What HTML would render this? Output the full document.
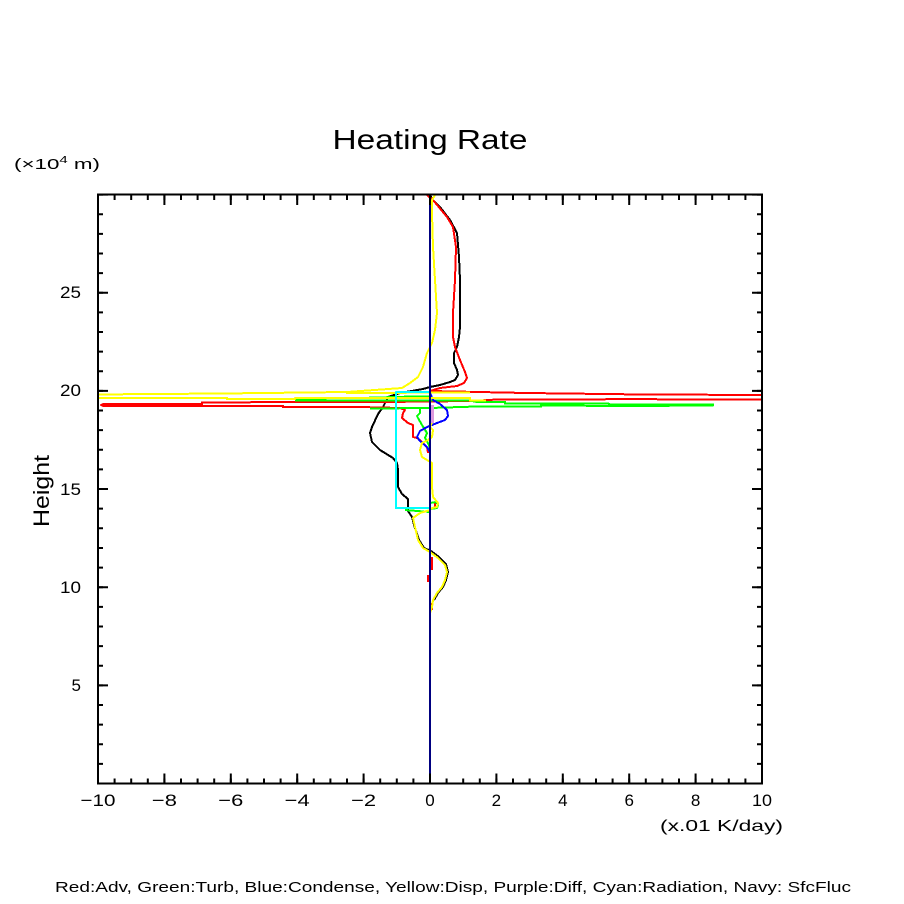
<!DOCTYPE html>
<html>
<head>
<meta charset="utf-8">
<style>
html,body{margin:0;padding:0;background:#fff;}
svg{display:block;}
text{font-family:"Liberation Sans",sans-serif;fill:#000;}
</style>
</head>
<body>
<svg width="904" height="904" viewBox="0 0 904 904" xmlns="http://www.w3.org/2000/svg">
<rect x="0" y="0" width="904" height="904" fill="#fff"/>

<!-- Title -->
<text x="430" y="149" font-size="28" text-anchor="middle" textLength="195" lengthAdjust="spacingAndGlyphs">Heating Rate</text>

<!-- y unit -->
<text x="14" y="169" font-size="15" textLength="86" lengthAdjust="spacingAndGlyphs">(×10<tspan font-size="10" dy="-6">4</tspan><tspan dy="6"> m)</tspan></text>

<defs>
<clipPath id="plot"><rect x="98" y="194" width="664" height="590"/></clipPath>
</defs>

<g clip-path="url(#plot)" fill="none" stroke-width="2" stroke-linejoin="round" shape-rendering="crispEdges">
<!-- black -->
<polyline stroke="#000" points="430,195 433,200 440,207 450,220 457,233 459,257 460,280 460,327 459,337 457,347 454,353 454,363 457,370 458,375 455,380 450,382 440,385 430,387 423,389 400,393 388,397 383,407 378,414 372,427 370,433 372,442 380,450 393,458 397,463 398,470 398,487 402,494 408,499 408,511 412,517 414,525 419,540 424,548 431,551 439,557 446,564 448,572 446,580 443,587 438,593 434,600"/>
<!-- red -->
<polyline stroke="#f00" points="427,195 433,200 447,217 453,227 456,247 455,280 453,313 453,337 455,347 460,360 465,372 467,378 464,383 457,386 440,388 430,391 526,393 643,394.5 770,395"/>
<polyline stroke="#f00" points="770,399.5 630,399.2 497,399.5 470,401 385,402 301,402 202,402.5 202,404.2 103,404.2 101,405 103,405.8 193,405.8 283,406 283,407 360,407 400,408 405,410 403,413 402,418 408,423 413,425 413,437 417,438 420,440 427,447 428,453"/>
<polyline stroke="#f00" points="430,457 430,462"/>
<polyline stroke="#f00" points="430,467 430,472"/>
<polyline stroke="#f00" points="435,503 435,508"/>
<polyline stroke="#f00" points="432,557 432,570"/>
<polyline stroke="#f00" points="428,575 428,582"/>
<polyline stroke="#f00" points="432,603 432,610"/>
<!-- green -->
<polyline stroke="#0f0" points="295,398.5 360,398 413,396.5 430,396.5"/>
<polyline stroke="#0f0" points="295,400.7 470,400.7 477,402 505,402 505,403.7 609,403.7 609,404.3 713,404.3 713,405.5 628,406 541,405.5 541,406.7 470,406.7 430,408 370,408.5"/>
<polyline stroke="#0f0" points="420,409 420,413 417,416 418,418 422,425 427,433 425,438 428,443 430,448"/>
<polyline stroke="#0f0" points="405,510 430,512"/>
<polyline stroke="#0f0" points="430,503 436,502 438,505 437,508 430,509"/>
<!-- blue -->
<polyline stroke="#00f" points="430,393 433,400 440,404 447,410 448,416 445,420 437,423 427,427 420,431 417,437 420,441 427,447 430,452"/>
<!-- yellow -->
<polyline stroke="#ff0" points="435,195 432,200 432,213 433,247 435,280 437,313 435,330 432,343 427,353 423,367 418,377 410,383 402,388 347,392 222,393.5 90,394.5"/>
<polyline stroke="#ff0" points="90,398 227,398 227,399 295,399 295,398 470,398 470,400.5 486,400.5"/>
<polyline stroke="#ff0" points="346,393 470,392.5"/>
<polyline stroke="#ff0" points="432,412 433,420 430,427 433,430 432,437 428,440 422,443 420,450 422,457 427,460 432,463 432,487 433,497 438,503 437,507 432,508 430,510 420,513 413,518 415,527 418,540 423,548 430,552 438,558 445,565 447,572 445,580 442,587 437,593 433,600 432,607 430,613"/>
<!-- purple -->
<polyline stroke="#dd99dd" stroke-width="3" points="432.5,405 432.5,423"/>
<!-- cyan -->
<polyline stroke="#0ff" points="430,392 396,392 396,508 430,508"/>
<!-- navy -->
<line x1="430" y1="194" x2="430" y2="784" stroke="#000080" stroke-width="2"/>
</g>

<!-- frame -->
<rect x="98" y="194.5" width="664" height="589" fill="none" stroke="#000" stroke-width="2"/>

<!-- ticks: bottom -->
<line x1="97" y1="781" x2="763" y2="781" stroke="#000" stroke-width="5" stroke-dasharray="2 14.6"/>
<line x1="97" y1="778.5" x2="763" y2="778.5" stroke="#000" stroke-width="10" stroke-dasharray="2 64.4"/>
<!-- ticks: top -->
<line x1="97" y1="197.5" x2="763" y2="197.5" stroke="#000" stroke-width="5" stroke-dasharray="2 14.6"/>
<line x1="97" y1="200" x2="763" y2="200" stroke="#000" stroke-width="10" stroke-dasharray="2 64.4"/>
<!-- ticks: left -->
<line x1="100.5" y1="784.5" x2="100.5" y2="193" stroke="#000" stroke-width="5" stroke-dasharray="2 17.63"/>
<line x1="103" y1="784.5" x2="103" y2="193" stroke="#000" stroke-width="10" stroke-dasharray="2 96.15"/>
<!-- ticks: right -->
<line x1="759.5" y1="784.5" x2="759.5" y2="193" stroke="#000" stroke-width="5" stroke-dasharray="2 17.63"/>
<line x1="757" y1="784.5" x2="757" y2="193" stroke="#000" stroke-width="10" stroke-dasharray="2 96.15"/>

<!-- x tick labels -->
<g font-size="17" text-anchor="middle">
<text x="98" y="806" textLength="35" lengthAdjust="spacingAndGlyphs">−10</text>
<text x="164.4" y="806" textLength="25" lengthAdjust="spacingAndGlyphs">−8</text>
<text x="230.8" y="806" textLength="25" lengthAdjust="spacingAndGlyphs">−6</text>
<text x="297.2" y="806" textLength="25" lengthAdjust="spacingAndGlyphs">−4</text>
<text x="363.6" y="806" textLength="25" lengthAdjust="spacingAndGlyphs">−2</text>
<text x="430" y="806">0</text>
<text x="496.4" y="806">2</text>
<text x="562.8" y="806">4</text>
<text x="629.2" y="806">6</text>
<text x="695.6" y="806">8</text>
<text x="762" y="806" textLength="20" lengthAdjust="spacingAndGlyphs">10</text>
</g>
<text x="660" y="831" font-size="16" textLength="123" lengthAdjust="spacingAndGlyphs">(x.01 K/day)</text>

<!-- y tick labels -->
<g font-size="17" text-anchor="end">
<text x="81" y="298" textLength="21" lengthAdjust="spacingAndGlyphs">25</text>
<text x="81" y="396" textLength="21" lengthAdjust="spacingAndGlyphs">20</text>
<text x="81" y="495" textLength="21" lengthAdjust="spacingAndGlyphs">15</text>
<text x="81" y="593" textLength="21" lengthAdjust="spacingAndGlyphs">10</text>
<text x="81" y="691">5</text>
</g>

<!-- y axis title -->
<text x="0" y="0" font-size="22" text-anchor="middle" transform="translate(49,491) rotate(-90)" textLength="72" lengthAdjust="spacingAndGlyphs">Height</text>

<!-- legend -->
<text x="55" y="892" font-size="15" textLength="796" lengthAdjust="spacingAndGlyphs">Red:Adv, Green:Turb, Blue:Condense, Yellow:Disp, Purple:Diff, Cyan:Radiation, Navy: SfcFluc</text>
</svg>
</body>
</html>
